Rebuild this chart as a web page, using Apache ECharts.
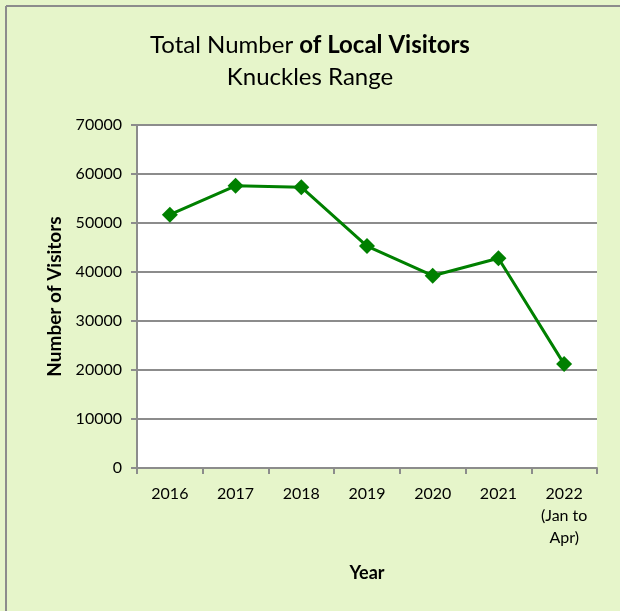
<!DOCTYPE html>
<html>
<head>
<meta charset="utf-8">
<script src="https://cdn.jsdelivr.net/npm/echarts@6/dist/echarts.min.js"></script>
<style>
  html, body { margin: 0; padding: 0; background: #e6f5ca; }
  #chart { width: 620px; height: 611px; }
</style>
</head>
<body>
<div id="chart"></div>
<script>
// Local visitors to Knuckles Range per year
const years = ['2016', '2017', '2018', '2019', '2020', '2021', '2022\n(Jan to\nApr)'];
const visitors = [51700, 57600, 57300, 45300, 39250, 42800, 21200];
const yTicks = { min: 0, max: 70000, step: 10000 };

const font = 'Lato, "Open Sans", sans-serif';
const chart = echarts.init(document.getElementById('chart'), null, { renderer: 'canvas' });

chart.setOption({
  backgroundColor: '#e6f5ca',
  animation: false,
  graphic: [
    { type: 'line', shape: { x1: 6, y1: 6, x2: 6, y2: 640 },
      style: { stroke: '#8c8c8c', lineWidth: 2 }, silent: true },
    { type: 'line', shape: { x1: 6, y1: 6, x2: 640, y2: 6 },
      style: { stroke: '#8c8c8c', lineWidth: 2 }, silent: true }
  ],
  title: {
    left: 'center',
    top: 24,
    text: '{n|Total Number }{b|of Local Visitors}\n{n|Knuckles Range}',
    textStyle: {
      fontWeight: 'normal',
      rich: {
        n: { fontFamily: font, fontSize: 24, fontWeight: 'normal', color: '#000', lineHeight: 32 },
        b: { fontFamily: font, fontSize: 24, fontWeight: 'bold', color: '#000', lineHeight: 32 }
      }
    }
  },
  grid: { left: 137, right: 23, top: 125, bottom: 143, containLabel: false,
          show: true, backgroundColor: '#ffffff', borderWidth: 0 },
  xAxis: {
    type: 'category',
    data: years,
    boundaryGap: true,
    name: 'Year',
    nameLocation: 'middle',
    nameGap: 96,
    nameTextStyle: { fontFamily: font, fontSize: 18, fontWeight: 'bold', color: '#000' },
    axisLine: { lineStyle: { color: '#8c8c8c', width: 2 } },
    axisTick: { show: true, alignWithLabel: false, length: 6, lineStyle: { color: '#8c8c8c', width: 2 } },
    axisLabel: { fontFamily: font, fontSize: 16, color: '#000', margin: 15, lineHeight: 22, interval: 0 },
    splitLine: { show: false }
  },
  yAxis: {
    type: 'value',
    min: yTicks.min,
    max: yTicks.max,
    interval: yTicks.step,
    name: 'Number of Visitors',
    nameLocation: 'middle',
    nameGap: 72,
    nameTextStyle: { fontFamily: font, fontSize: 19, fontWeight: 'bold', color: '#000' },
    axisLine: { show: true, lineStyle: { color: '#8c8c8c', width: 2 } },
    axisTick: { show: true, length: 6, lineStyle: { color: '#8c8c8c', width: 2 } },
    axisLabel: { fontFamily: font, fontSize: 16, color: '#000', margin: 15,
                 formatter: v => String(v) },
    splitLine: { show: true, lineStyle: { color: '#8c8c8c', width: 2 } }
  },
  series: [{
    type: 'line',
    data: visitors,
    symbol: 'diamond',
    symbolSize: 16,
    lineStyle: { color: '#008000', width: 3 },
    itemStyle: { color: '#008000' }
  }]
});
</script>
</body>
</html>
